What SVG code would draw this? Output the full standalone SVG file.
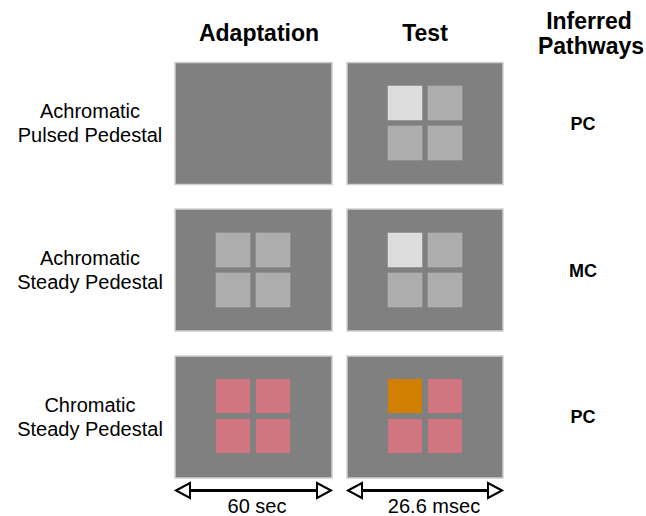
<svg xmlns="http://www.w3.org/2000/svg" width="646" height="516" viewBox="0 0 646 516">
<defs>
<style>
.panel{fill:#808080;stroke:#cfcfcf;stroke-width:1.5}
.g{fill:#adadad;stroke:#b8b8b8;stroke-width:0.5}
.w{fill:#dcdcdc;stroke:#e4e4e4;stroke-width:0.5}
.p{fill:#d07681}
.o{fill:#d07f00}
.hdr{font-family:"Liberation Sans",Arial,sans-serif;font-weight:bold;font-size:23px;fill:#000;text-anchor:middle}
.lbl{font-family:"Liberation Sans",Arial,sans-serif;font-size:20px;fill:#000;text-anchor:middle}
.pw{font-family:"Liberation Sans",Arial,sans-serif;font-weight:bold;font-size:18px;fill:#000;text-anchor:middle}
.shaft{stroke:#000;stroke-width:3;fill:none}
.head{fill:#fff;stroke:#000;stroke-width:2;stroke-linejoin:miter}
</style>
</defs>
<g id="headers">
<text class="hdr" x="259" y="41">Adaptation</text>
<text class="hdr" x="425" y="41">Test</text>
<text class="hdr" x="589" y="29">Inferred</text>
<text class="hdr" x="591" y="54">Pathways</text>
</g>
<g id="row1">
<text class="lbl" x="90" y="118">Achromatic</text>
<text class="lbl" x="90" y="142">Pulsed Pedestal</text>
<rect class="panel" x="175" y="62.5" width="157" height="122"/>
<rect class="panel" x="347" y="62.5" width="156" height="122"/>
<rect class="w" x="388" y="86" width="34" height="34"/>
<rect class="g" x="428" y="86" width="34" height="34"/>
<rect class="g" x="388" y="126" width="34" height="34"/>
<rect class="g" x="428" y="126" width="34" height="34"/>
<text class="pw" x="583" y="129.5">PC</text>
</g>
<g id="row2">
<text class="lbl" x="90" y="265">Achromatic</text>
<text class="lbl" x="90" y="289">Steady Pedestal</text>
<rect class="panel" x="175" y="209" width="157" height="122"/>
<rect class="panel" x="347" y="209" width="156" height="122"/>
<rect class="g" x="216" y="233" width="34" height="34"/>
<rect class="g" x="256" y="233" width="34" height="34"/>
<rect class="g" x="216" y="273" width="34" height="34"/>
<rect class="g" x="256" y="273" width="34" height="34"/>
<rect class="w" x="388" y="233" width="34" height="34"/>
<rect class="g" x="428" y="233" width="34" height="34"/>
<rect class="g" x="388" y="273" width="34" height="34"/>
<rect class="g" x="428" y="273" width="34" height="34"/>
<text class="pw" x="583" y="276.5">MC</text>
</g>
<g id="row3">
<text class="lbl" x="90" y="412">Chromatic</text>
<text class="lbl" x="90" y="436">Steady Pedestal</text>
<rect class="panel" x="175" y="356" width="157" height="122"/>
<rect class="panel" x="347" y="356" width="156" height="122"/>
<rect class="p" x="216" y="379" width="34" height="34"/>
<rect class="p" x="256" y="379" width="34" height="34"/>
<rect class="p" x="216" y="419" width="34" height="34"/>
<rect class="p" x="256" y="419" width="34" height="34"/>
<rect class="o" x="388" y="379" width="34" height="34"/>
<rect class="p" x="428" y="379" width="34" height="34"/>
<rect class="p" x="388" y="419" width="34" height="34"/>
<rect class="p" x="428" y="419" width="34" height="34"/>
<text class="pw" x="583" y="423">PC</text>
</g>
<g id="connectors">
<line class="shaft" x1="190" y1="490.5" x2="317" y2="490.5"/>
<path class="head" d="M176,490.5 L190,483 L190,498 Z"/>
<path class="head" d="M331,490.5 L317,483 L317,498 Z"/>
<line class="shaft" x1="362" y1="490.5" x2="488" y2="490.5"/>
<path class="head" d="M348,490.5 L362,483 L362,498 Z"/>
<path class="head" d="M502,490.5 L488,483 L488,498 Z"/>
</g>
<g id="durations">
<text class="lbl" x="257" y="513">60 sec</text>
<text class="lbl" x="434" y="513">26.6 msec</text>
</g>
</svg>
